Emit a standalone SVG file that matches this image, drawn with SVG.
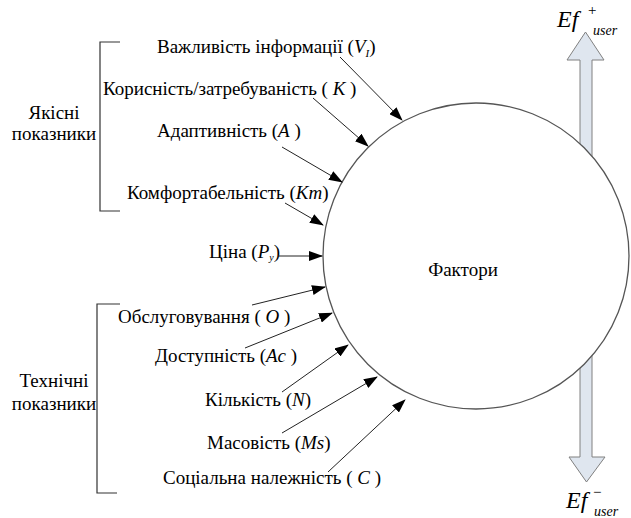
<svg xmlns="http://www.w3.org/2000/svg" width="631" height="518" viewBox="0 0 631 518" font-family="Tinos">
<defs>
<marker id="ah" markerWidth="14" markerHeight="10" refX="13" refY="5" orient="auto" markerUnits="userSpaceOnUse">
<path d="M0,0 L14,5 L0,10 Z" fill="#000"/>
</marker>
</defs>
<rect width="631" height="518" fill="#fff"/>
<g id="arrow-up">
<path fill="#dfe6ef" stroke="#808080" stroke-width="1" d="M580,200 L580,60 L567,60 L585.5,32 L604,60 L592,60 L592,200 Z"/>
</g>
<g id="arrow-down">
<path fill="#dfe6ef" stroke="#808080" stroke-width="1" d="M580,300 L580,457 L569,457 L586.5,482 L605,457 L592,457 L592,300 Z"/>
</g>
<g id="factors">
<circle cx="476" cy="256" r="153" fill="#fff" stroke="#555" stroke-width="1.3"/>
<text font-family="Tinos" font-size="19" text-anchor="middle" x="463" y="276">Фактори</text>
</g>
<g id="ef-plus">
<text font-family="Tinos" font-style="italic" x="557" y="27" font-size="24">Ef</text>
<text font-family="Tinos" x="588" y="15" font-size="15">+</text>
<text font-family="Tinos" font-style="italic" x="593" y="35" font-size="14">user</text>
</g>
<g id="ef-minus">
<text font-family="Tinos" font-style="italic" x="566" y="508" font-size="24">Ef</text>
<text font-family="Tinos" x="593" y="497" font-size="15">−</text>
<text font-family="Tinos" font-style="italic" x="594" y="516" font-size="14">user</text>
</g>
<g id="group-quality">
<path fill="none" stroke="#333" stroke-width="1.2" d="M120,42 L100,42 L100,211 L120,211"/>
<text font-family="Tinos" font-size="19" text-anchor="middle" x="54" y="119">Якісні</text>
<text font-family="Tinos" font-size="19" text-anchor="middle" x="54" y="140">показники</text>
</g>
<g id="group-technical">
<path fill="none" stroke="#333" stroke-width="1.2" d="M120,304 L97,304 L97,493 L117,493"/>
<text font-family="Tinos" font-size="19" text-anchor="middle" x="54" y="387">Технічні</text>
<text font-family="Tinos" font-size="19" text-anchor="middle" x="54" y="410">показники</text>
</g>
<g id="n-vi"><text font-family="Tinos" font-size="19" x="157" y="53">Важливість інформації (<tspan font-style="italic">V</tspan><tspan font-style="italic" font-size="11" dy="4">I</tspan><tspan dy="-4">)</tspan></text></g>
<g id="n-k"><text font-family="Tinos" font-size="19" x="103" y="95">Корисність/затребуваність ( <tspan font-style="italic">K</tspan> )</text></g>
<g id="n-a"><text font-family="Tinos" font-size="19" x="157" y="137">Адаптивність  (<tspan font-style="italic">A</tspan> )</text></g>
<g id="n-km"><text font-family="Tinos" font-size="19" x="127" y="199">Комфортабельність (<tspan font-style="italic">Km</tspan>)</text></g>
<g id="n-p"><text font-family="Tinos" font-size="19" x="209" y="258">Ціна (<tspan font-style="italic">P</tspan><tspan font-style="italic" font-size="10" dy="3">y</tspan><tspan dy="-3">)</tspan></text></g>
<g id="n-o"><text font-family="Tinos" font-size="19" x="118" y="323">Обслуговування ( <tspan font-style="italic">O</tspan> )</text></g>
<g id="n-ac"><text font-family="Tinos" font-size="19" x="155" y="362">Доступність (<tspan font-style="italic">Ac</tspan>  )</text></g>
<g id="n-n"><text font-family="Tinos" font-size="19" x="205" y="406">Кількість (<tspan font-style="italic">N</tspan>)</text></g>
<g id="n-ms"><text font-family="Tinos" font-size="19" x="207" y="449">Масовість (<tspan font-style="italic">Ms</tspan>)</text></g>
<g id="n-c"><text font-family="Tinos" font-size="19" x="163" y="484">Соціальна належність ( <tspan font-style="italic">C</tspan> )</text></g>
<g id="connectors" fill="none" stroke="#222" stroke-width="1" marker-end="url(#ah)">
<line x1="340" y1="57" x2="402" y2="120"/>
<line x1="313" y1="98" x2="368" y2="146"/>
<line x1="282" y1="147" x2="342" y2="182"/>
<line x1="285" y1="203" x2="323" y2="225"/>
<line x1="278" y1="256" x2="322" y2="256"/>
<line x1="252" y1="305" x2="325" y2="287"/>
<line x1="245" y1="348" x2="332" y2="313"/>
<line x1="282" y1="392" x2="348" y2="345"/>
<line x1="282" y1="433" x2="377" y2="377"/>
<line x1="328" y1="472" x2="405" y2="400"/>
</g>
</svg>
